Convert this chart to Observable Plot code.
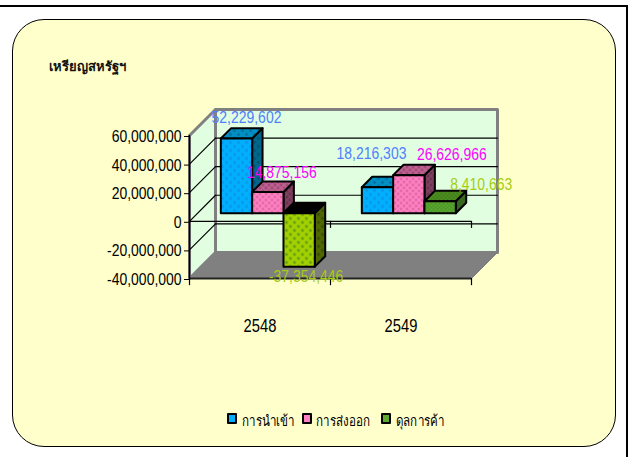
<!DOCTYPE html>
<html><head><meta charset="utf-8">
<script src="https://cdn.jsdelivr.net/npm/d3@7"></script>
<script src="https://cdn.jsdelivr.net/npm/@observablehq/plot@0.6"></script>
<style>
html,body{margin:0;padding:0;background:#fff;}
#page{position:relative;width:633px;height:457px;overflow:hidden;font-family:"Liberation Sans",Arial,"Noto Sans",sans-serif;}
#edgeTop{position:absolute;left:0;top:5px;width:628px;height:2px;background:#000;}
#edgeRight{position:absolute;left:626px;top:5px;width:2px;height:452px;background:#000;}
#panel{position:absolute;left:12px;top:19px;width:602px;height:426px;background:#ffffcc;border:1.5px solid #000;border-radius:32px;}
#title{position:absolute;left:49px;top:56px;font-size:13px;font-weight:bold;color:#111;white-space:nowrap;}
#chart{position:absolute;left:0;top:0;}
.lg{position:absolute;top:412px;font-size:14.5px;color:#000;white-space:nowrap;line-height:18px;transform:scaleX(.8);transform-origin:left center;}
.sw{position:absolute;top:413px;width:6px;height:7px;border:2px solid #000;border-radius:1px;}
</style></head>
<body><div id="page">
<div id="edgeTop"></div><div id="edgeRight"></div>
<div id="panel"></div>
<div id="title"></div>
<div id="chart"></div>
</div>
<script>
const years = ["2548", "2549"];
const seriesNames = ["การนำเข้า", "การส่งออก", "ดุลการค้า"];
const imports = [52229602, 18216303];
const exports_ = [14875156, 26626966];
const balance = [-37354446, 8410663];
const yTicks = [-40000000, -20000000, 0, 20000000, 40000000, 60000000];
const unitTitle = "เหรียญสหรัฐฯ";

// Styling and layout
const labelColors = ["#4f80ff", "#ff00ff", "#a6cc12"];
const labelNudge = [[[10, -21], [14, -19], [7, 10]], [[-6, -34], [43, -21], [41, -17]]];
const faces = {
  blue: {front: ["#00b0ff", "#0a94e0"], side: ["#00688c", "#004f70"], top: ["#0090c4", "#006a9c"]},
  pink: {front: ["#ff80c0", "#d05a9c"], side: ["#80405f", "#552a44"], top: ["#bf6090", "#8a4068"]},
  lime: {front: ["#a4d000", "#5f9a10"], side: ["#506800", "#354a00"], top: ["#000000", "#000000"]},
  green: {front: ["#60a830", "#3d8a20"], side: ["#3c7020", "#2c5518"], top: ["#4f8f20", "#3c7518"]}
};
const seriesFace = [["blue", "pink", "lime"], ["blue", "pink", "green"]];
const depthX = 0.1844, depthY = 18.2e6;          // full depth of the 3-D box, in data units
const barZ0 = 0.31, barZ1 = 0.71, barLeft = 0.165, barW = 0.2222;

const P = (x, y, z = 0) => ({x: x + z * depthX, y: y + z * depthY});
let polyId = 0;
const poly = (fill, stroke, pts) => { const id = polyId++; return pts.map(p => ({...p, id, fill, stroke})); };
const polyMark = (rows, strokeWidth) => Plot.line(rows, {
  x: "x", y: "y", z: "id", curve: "linear-closed",
  fill: {value: d => d.fill, scale: null}, stroke: {value: d => d.stroke, scale: null},
  strokeWidth, strokeLinejoin: "round"
});
const seg = (a, b) => [a, b];
const [yMin, yMax] = [yTicks[0], yTicks[yTicks.length - 1]];

// walls and floor
const walls = [
  ...poly("url(#wall)", "#808080", [P(0, yMin, 1), P(2, yMin, 1), P(2, yMax, 1), P(0, yMax, 1)]),
  ...poly("url(#wall)", "#808080", [P(0, yMin, 0), P(0, yMin, 1), P(0, yMax, 1), P(0, yMax, 0)])
];
const floor = poly("#808080", "#808080", [P(0, yMin, 0), P(2, yMin, 0), P(2, yMin, 1), P(0, yMin, 1)]);
const grid = yTicks.slice(1, -1).map(v => seg(P(0, v, 0), P(0, v, 1))).concat(yTicks.slice(1, -1).map(v => seg(P(0, v, 1), P(2, v, 1))));
const gridRows = grid.flatMap((s, i) => s.map(p => ({...p, i})));

// bars
const barRows = [], labels = [];
const seriesValues = [imports, exports_, balance];
years.forEach((yr, c) => {
  seriesValues.forEach((vals, s) => {
    const v = vals[c], f = seriesFace[c][s];
    const x0 = c + barLeft + s * barW, x1 = x0 + barW, hi = Math.max(v, 0), lo = Math.min(v, 0);
    barRows.push(
      ...poly(`url(#${f}-side)`, "#000", [P(x1, lo, barZ0), P(x1, lo, barZ1), P(x1, hi, barZ1), P(x1, hi, barZ0)]),
      ...poly(`url(#${f}-top)`, "#000", [P(x0, hi, barZ0), P(x1, hi, barZ0), P(x1, hi, barZ1), P(x0, hi, barZ1)]),
      ...poly(`url(#${f}-front)`, "#000", [P(x0, lo, barZ0), P(x1, lo, barZ0), P(x1, hi, barZ0), P(x0, hi, barZ0)])
    );
    const a = P((x0 + x1) / 2, v, barZ0);
    labels.push({...a, text: v.toLocaleString("en-US"), color: labelColors[s], nudge: labelNudge[c][s]});
  });
});

const font = '"Liberation Sans",Arial,sans-serif';
const svg = Plot.plot({
  width: 633, height: 457,
  marginLeft: 189, marginRight: 162, marginTop: 135, marginBottom: 179,
  x: {domain: [0, 2], axis: null},
  y: {domain: [yMin, yMax], axis: null},
  style: {background: "transparent", fontFamily: font, fontSize: "17px", color: "#000", overflow: "visible"},
  marks: [
    polyMark(walls, 3),
    polyMark(floor, 1),
    Plot.line(gridRows, {x: "x", y: "y", z: "i", stroke: "#000", strokeWidth: 1.2}),
    Plot.ruleY([0], {x1: 0, x2: 2, stroke: "#000", strokeWidth: 1.2}),
    Plot.ruleX([1, 2], {y1: 0, y2: -5000000, stroke: "#000", strokeWidth: 1.2}),
    polyMark(barRows, 2),
    Plot.ruleY([yMin], {x1: 0, x2: 2, stroke: "#222", strokeWidth: 2}),
    Plot.ruleX([0, 1, 2], {y1: yMin, y2: yMin - 5000000, stroke: "#000", strokeWidth: 1.2}),
    Plot.ruleX([0], {y1: yMin, y2: yMax, stroke: "#000", strokeWidth: 1.5}),
    Plot.axisY(yTicks, {anchor: "left", tickSize: 5, tickPadding: 3, label: null, fontSize: 17, dy: 1,
      tickFormat: d => d.toLocaleString("en-US"), stroke: "#000"}),
    Plot.text(years.map((y, i) => ({y, x: i + 0.5})), {x: "x", y: () => yMin, text: "y", dy: 48, fontSize: 18}),
    ...labels.map(l => Plot.text([l], {x: "x", y: "y", text: "text", fill: l.color, dx: l.nudge[0], dy: l.nudge[1], fontSize: 17}))
  ]
});

// fill patterns
const defs = d3.select(svg).insert("defs", ":first-child");
const dotted = (id, base, dot, size) => {
  const p = defs.append("pattern").attr("id", id).attr("patternUnits", "userSpaceOnUse").attr("width", size).attr("height", size);
  p.append("rect").attr("width", size).attr("height", size).attr("fill", base);
  p.append("circle").attr("cx", size / 4).attr("cy", size / 4).attr("r", size / 8 + 0.4).attr("fill", dot);
  p.append("circle").attr("cx", size * 3 / 4).attr("cy", size * 3 / 4).attr("r", size / 8 + 0.4).attr("fill", dot);
};
Object.entries(faces).forEach(([n, f]) => Object.entries(f).forEach(([k, [b, d]]) =>
  dotted(`${n}-${k}`, b, d, n === "pink" ? 6 : (n === "green" ? 4 : 8))));
const w = defs.append("pattern").attr("id", "wall").attr("patternUnits", "userSpaceOnUse").attr("width", 2).attr("height", 2);
w.append("rect").attr("width", 2).attr("height", 2).attr("fill", "#eaffea");
w.append("rect").attr("width", 1).attr("height", 1).attr("fill", "#d8fcd8");
w.append("rect").attr("x", 1).attr("y", 1).attr("width", 1).attr("height", 1).attr("fill", "#d8fcd8");

document.getElementById("chart").appendChild(svg);
document.getElementById("title").textContent = unitTitle;

// the reference's type is condensed: squeeze every chart text horizontally
svg.querySelectorAll("text").forEach(t => {
  t.setAttribute("textLength", (t.getComputedTextLength() * 0.82).toFixed(1));
  t.setAttribute("lengthAdjust", "spacingAndGlyphs");
});

// legend
const page = document.getElementById("page");
const swatchX = [227, 302, 381], textX = [242, 316, 396], swatchFill = ["#00b0ff", "#ff80c0", "#60a830"];
seriesNames.forEach((n, i) => {
  const s = document.createElement("div"); s.className = "sw"; s.style.left = swatchX[i] + "px"; s.style.background = swatchFill[i]; page.appendChild(s);
  const t = document.createElement("div"); t.className = "lg"; t.style.left = textX[i] + "px"; t.textContent = n; page.appendChild(t);
});
</script>
</body></html>
